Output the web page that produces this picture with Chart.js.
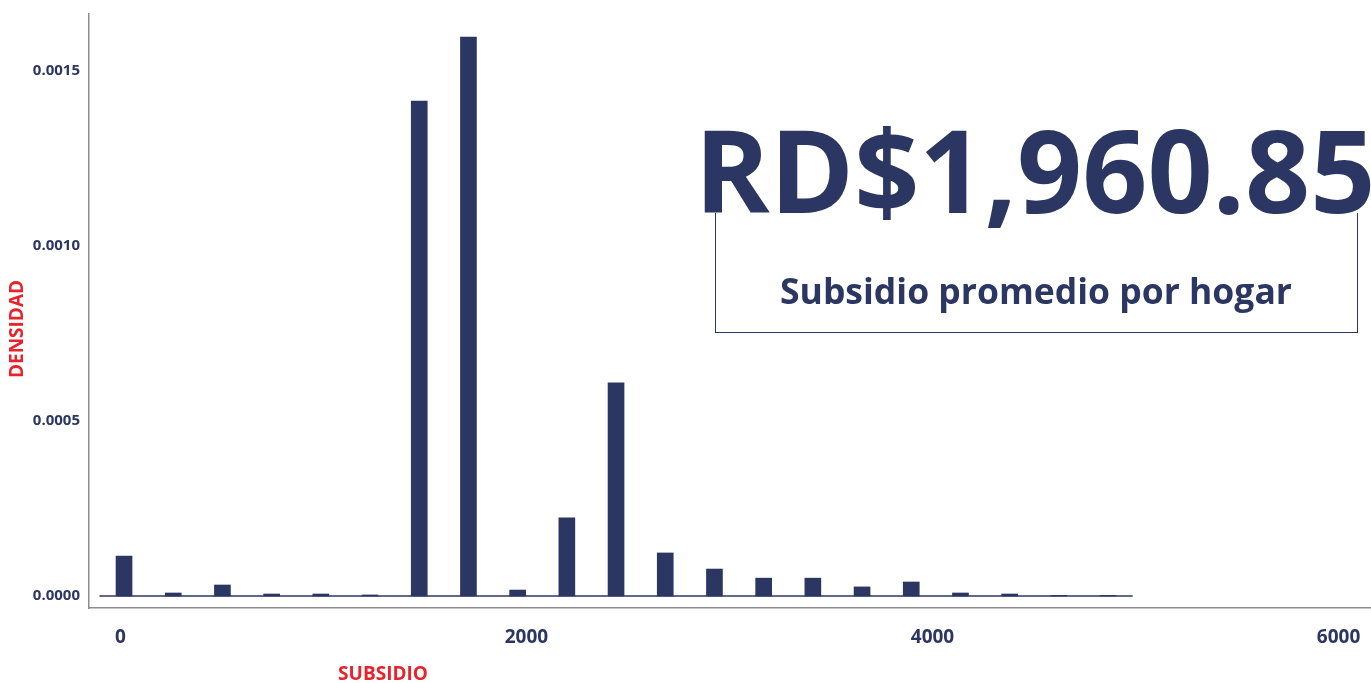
<!DOCTYPE html>
<html>
<head>
<meta charset="utf-8">
<script src="https://cdn.jsdelivr.net/npm/chart.js@4"></script>
<style>
  body { margin: 0; background: #fff; }
  #wrap { position: relative; width: 1371px; height: 683px; overflow: hidden; }
  #big { position: absolute; left: 1035px; top: 112px; transform: translateX(-50%);
         font: bold 114px "Open Sans", sans-serif; line-height: 1; color: #2b3762; white-space: nowrap; }
  #box { position: absolute; left: 715px; top: 213px; width: 641px; height: 119px;
         border: 1.5px solid #2b3762; border-top: none; }
  #sub { position: absolute; left: 1036px; top: 273px; transform: translateX(-50%);
         font: bold 35.5px "Open Sans", sans-serif; line-height: 1; color: #2b3762; white-space: nowrap; }
</style>
</head>
<body>
<div id="wrap">
  <canvas id="grafico_hist"></canvas>
  <div id="box"></div>
  <div id="big">RD$1,960.85</div>
  <div id="sub">Subsidio promedio por hogar</div>
</div>
<script>
// centros de cada barra del histograma (subsidio)
var centros = [0, 250, 500, 750, 1000, 1250, 1500, 1750, 2000, 2250, 2500,
               2750, 3000, 3250, 3500, 3750, 4000, 4250, 4500, 4750, 5000];
var densidad = [0.000114, 0.0000086, 0.0000314, 0.0000057, 0.0000057, 0.000003,
                0.001414, 0.001597, 0.000017, 0.000223, 0.000609, 0.000123,
                0.000077, 0.000051, 0.000051, 0.000026, 0.00004, 0.0000086,
                0.0000057, 0.0000015, 0.0000015];
var ticksX = [0, 2000, 4000, 6000];
var ticksY = [0, 0.0005, 0.0010, 0.0015];

var azul = "#2b3762";
var rojo = "#e8232b";
var gris = "#8c8c8c";

var puntos = centros.map(function (c, i) { return {x: c, y: densidad[i]}; });

// linea base bajo las barras y titulos de los ejes
var extras = {
    id: "extras",
    afterDatasetsDraw: function (chart) {
        var c = chart.ctx, xs = chart.scales.x, ys = chart.scales.y;
        var y0 = ys.getPixelForValue(0);
        c.save();
        c.strokeStyle = azul;
        c.lineWidth = 1.5;
        c.beginPath();
        c.moveTo(xs.getPixelForValue(centros[0] - 125), y0);
        c.lineTo(xs.getPixelForValue(centros[centros.length - 1] + 125), y0);
        c.stroke();
        c.fillStyle = rojo;
        c.font = "bold 19px 'Open Sans'";
        c.textAlign = "center";
        c.textBaseline = "middle";
        c.fillText("SUBSIDIO", 383, 675);
        c.translate(18, 329);
        c.rotate(-Math.PI / 2);
        c.fillText("DENSIDAD", 0, 0);
        c.restore();
    }
};

var ctx = document.getElementById("grafico_hist").getContext("2d");
var chart = new Chart(ctx, {
    type: "bar",
    data: {
        datasets: [{
            data: puntos,
            backgroundColor: azul,
            borderWidth: 0,
            barThickness: 16
        }]
    },
    options: {
        responsive: true,
        maintainAspectRatio: false,
        animation: false,
        layout: { padding: { top: 14, left: 0, right: 0, bottom: 0 } },
        plugins: { legend: { display: false }, tooltip: { enabled: false } },
        scales: {
            x: {
                type: "linear",
                display: false,
                offset: false,
                grid: { offset: false },
                min: -178,
                max: 6336
            },
            x2: {
                type: "linear",
                position: "bottom",
                offset: false,
                min: -155,
                max: 6160,
                afterBuildTicks: function (s) { s.ticks = ticksX.map(function (v) { return {value: v}; }); },
                afterFit: function (s) { s.height = 75; s.paddingLeft = 0; s.paddingRight = 0; },
                grid: { display: false, drawTicks: false, offset: false },
                border: { display: true, color: gris, width: 1.5 },
                ticks: {
                    color: azul,
                    padding: 18,
                    font: { family: "Open Sans", weight: "bold", size: 19 },
                    callback: function (v) { return String(v); }
                }
            },
            y: {
                min: -0.0000343,
                max: 0.001663,
                afterBuildTicks: function (s) { s.ticks = ticksY.map(function (v) { return {value: v}; }); },
                afterFit: function (s) { s.width = 89; s.paddingTop = 0; s.paddingBottom = 0; },
                grid: { display: false, drawTicks: false },
                border: { display: true, color: gris, width: 1.5 },
                ticks: {
                    color: azul,
                    padding: 9,
                    font: { family: "Open Sans", weight: "bold", size: 15 },
                    callback: function (v) { return v.toFixed(4); }
                }
            }
        }
    },
    plugins: [extras]
});
</script>
</body>
</html>
